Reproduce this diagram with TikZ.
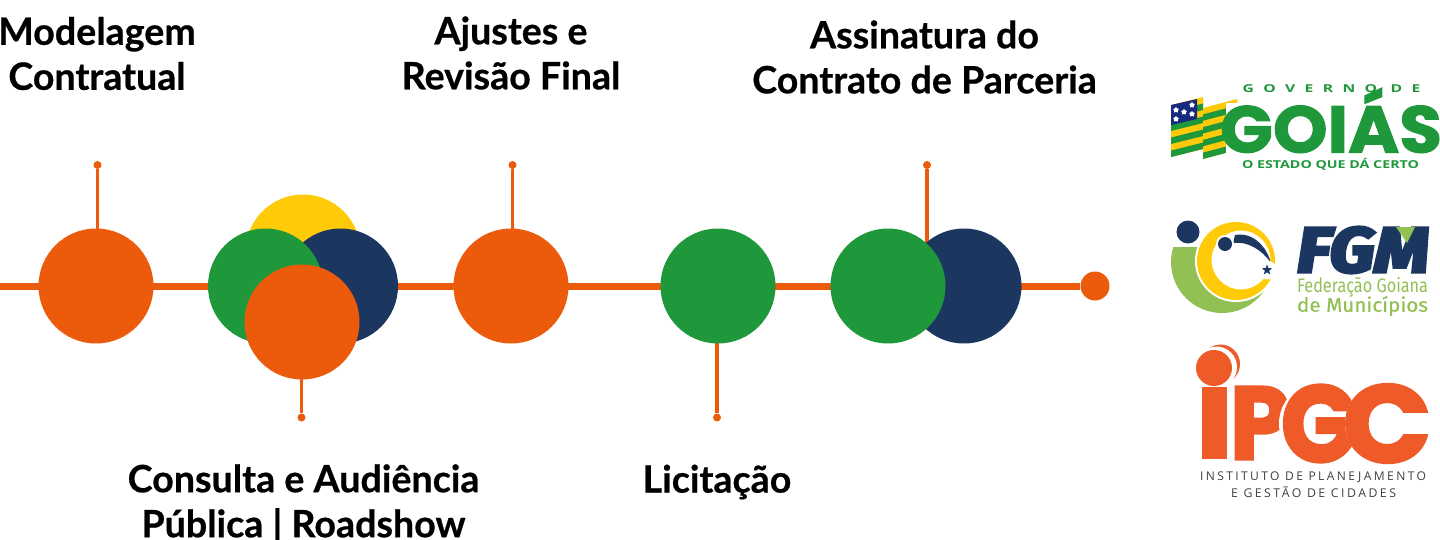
\documentclass[tikz,border=0pt]{standalone}
\usepackage{fontspec}
\usepackage{graphicx}
\usetikzlibrary{shapes.geometric}
\setmainfont{Lato}[BoldFeatures={FakeBold=0.6}]
\newfontfamily\logoheavy[FakeBold=1.5]{Poppins Bold}
\newfontfamily\logoblack[FakeBold=3]{Poppins Bold}
\newfontfamily\logosans{Open Sans}
\newfontfamily\logofira{Fira Sans}
\newcommand{\fitbox}[3]{\resizebox*{\dimexpr#1pt/2\relax}{\dimexpr#2pt/2\relax}{#3}}
\definecolor{orng}{HTML}{EC5A0C}
\definecolor{grn}{HTML}{1F983C}
\definecolor{navy}{HTML}{1B365F}
\definecolor{yel}{HTML}{FFCB08}
\definecolor{lgrn}{HTML}{92C055}
\definecolor{ipgc}{HTML}{EE5A28}
\definecolor{gov}{HTML}{1F983C}
\tikzset{
 x=0.5pt,y=-0.5pt,
 bigdot/.style={circle,minimum size=57.5pt,inner sep=0pt,fill=#1},
 tipdot/.style={circle,minimum size=4pt,inner sep=0pt,fill=orng},
 stem/.style={draw=orng,line width=1.7pt},
 mainline/.style={draw=orng,line width=3.5pt},
 title/.style={font=\bfseries\fontsize{18.8}{22.5}\selectfont,align=center,text=black,inner sep=0pt},
 logotext/.style={inner sep=0pt,outer sep=0pt},
}
\begin{document}
\begin{tikzpicture}
\useasboundingbox (0,0) rectangle (1440,540);
% tips
\coordinate (start) at (0,286);
\node[circle,minimum size=14.5pt,inner sep=0pt,fill=orng] (endd) at (1095,286) {};
\node[tipdot] (t1) at (97.5,165) {};
\node[tipdot] (t2) at (301.5,417.5) {};
\node[tipdot] (t3) at (512.5,165) {};
\node[tipdot] (t4) at (717,417.5) {};
\node[tipdot] (t5) at (927,165) {};
\draw[mainline] (start) -- (endd);
\coordinate (b1) at (97.5,286);
\coordinate (b2) at (301.5,322);
\coordinate (b3) at (512.5,286);
\coordinate (b4) at (717,286);
\coordinate (b5) at (927,286);
\draw[stem] (t1) -- (b1);
\draw[stem] (t2) -- (b2);
\draw[stem] (t3) -- (b3);
\draw[stem] (t4) -- (b4);
\draw[stem] (t5) -- (b5);
% circles
\node[bigdot=orng] (c1) at (96,286) {};
\node[bigdot=yel] (c2y) at (303,252) {};
\node[bigdot=navy] (c2n) at (340.5,286) {};
\node[bigdot=grn] (c2g) at (265.5,286) {};
\node[bigdot=orng] (c2o) at (302,322) {};
\node[bigdot=orng] (c3) at (511,286) {};
\node[bigdot=grn] (c4) at (718,286) {};
\node[bigdot=navy] (c5n) at (964,286) {};
\node[bigdot=grn] (c5g) at (888,286) {};
% titles
\node[title] (h1) at (97,53.5) {Modelagem\\Contratual};
\node[title] (h2) at (511,53) {Ajustes e\\Revisão Final};
\node[title] (h3) at (924.5,57) {Assinatura do\\Contrato de Parceria};
\node[title] (h4) at (303.5,504) {Consulta e Audiência\\Pública | Roadshow};
\node[title] (h5) at (717,482) {Licitação};
% ---- Goias logo
\begin{scope}
 \foreach \xa/\xb/\ya/\yb/\h in {1171/1203/105/97/52,1203/1237/108/99/51}{
  \fill[yel] (\xa,\ya) -- (\xb,\yb) -- (\xb,\yb+\h) -- (\xa,\ya+\h) -- cycle;
  \foreach \k in {1,3,5,7}{
   \fill[gov] (\xa,\ya+\k*\h/8) -- (\xb,\yb+\k*\h/8) -- (\xb,\yb+\k*\h/8+\h/8) -- (\xa,\ya+\k*\h/8+\h/8) -- cycle;
  }
 }
 \fill[navy!80!blue] (1171,105) -- (1197,99) -- (1197,119) -- (1171,125) -- cycle;
 \foreach \sx/\sy in {1176/110,1192/105,1184/112,1192/114,1176/119}{
  \node[star,star points=5,fill=white,inner sep=0pt,minimum size=3pt] at (\sx,\sy) {};
 }
\end{scope}
\fill[white] (1226,103) rectangle (1240,153);
\node[logotext,text=gov] (goiasb) at (1331,120.5) {\fitbox{222}{65}{\logoheavy GOIÁS}};
\node[logotext,text=gov] (goiast) at (1331.5,89) {\fitbox{178}{8}{\logosans\bfseries\addfontfeature{LetterSpace=60}GOVERNO DE}};
\node[logotext,text=gov] (goiasc) at (1330.5,164) {\fitbox{177}{12}{\logosans\bfseries O ESTADO QUE DÁ CERTO}};
% ---- FGM logo
\begin{scope}
 \clip (1165,247) rectangle (1290,320);
 \fill[lgrn] (1222,262) circle (51);
\end{scope}
\fill[white] (1236,261) circle (41);
\fill[yel,even odd rule] (1236,261) circle (39) (1241,260) circle (29.5);
\fill[navy] (1188,232) circle (11.5);
\fill[navy] (1235,235) .. controls (1252,232) and (1266,245) .. (1271,263)
  .. controls (1262,250) and (1248,241) .. (1233,243) -- cycle;
\fill[white] (1225,244) circle (9);
\fill[navy] (1225,244) circle (7);
\fill[white] (1267,270) circle (9.5);
\node[star,star points=5,star point ratio=2.4,fill=navy,inner sep=0pt,minimum size=5.5pt] (fgmstar) at (1267,270) {};
\node[logotext,text=navy] (fgmb) at (1363,250) {\fitbox{132}{46}{\logofira\bfseries\itshape\addfontfeature{FakeBold=5}FGM}};
\fill[lgrn] (1396,227) -- (1415,227) -- (1407,243) -- cycle;
\node[logotext,text=lgrn] (fgm1) at (1362.5,287) {\fitbox{131}{20}{\logofira Federação Goiana}};
\node[logotext,text=lgrn] (fgm2) at (1362.5,306) {\fitbox{131}{20}{\logofira\addfontfeature{FakeBold=0.5}de Municípios}};
% ---- IPGC logo
\fill[ipgc] (1220.5,364) circle (19.5);
\fill[white] (1216.5,367) circle (20.5);
\fill[ipgc] (1214,368) circle (18);
\fill[ipgc] (1202,387) rectangle (1227,459);
\node[logotext,text=ipgc] (ip) at (1260,423) {\fitbox{60}{72}{\logoblack P}};
\fill[white] (1319.5,423.5) circle (40.5);
\node[logotext,text=ipgc] (ig) at (1319.5,423.5) {\fitbox{77}{77}{\logoblack G}};
\fill[white] (1386,423.5) circle (41);
\node[logotext,text=ipgc] (ic) at (1387,423.5) {\fitbox{88}{78}{\logoblack C}};
\node[logotext,text=black!75] (i1) at (1313,477) {\fitbox{226}{11}{\logosans\addfontfeature{LetterSpace=20}INSTITUTO DE PLANEJAMENTO}};
\node[logotext,text=black!75] (i2) at (1313.5,492.5) {\fitbox{165}{11}{\logosans\addfontfeature{LetterSpace=20}E GESTÃO DE CIDADES}};
\end{tikzpicture}
\end{document}
